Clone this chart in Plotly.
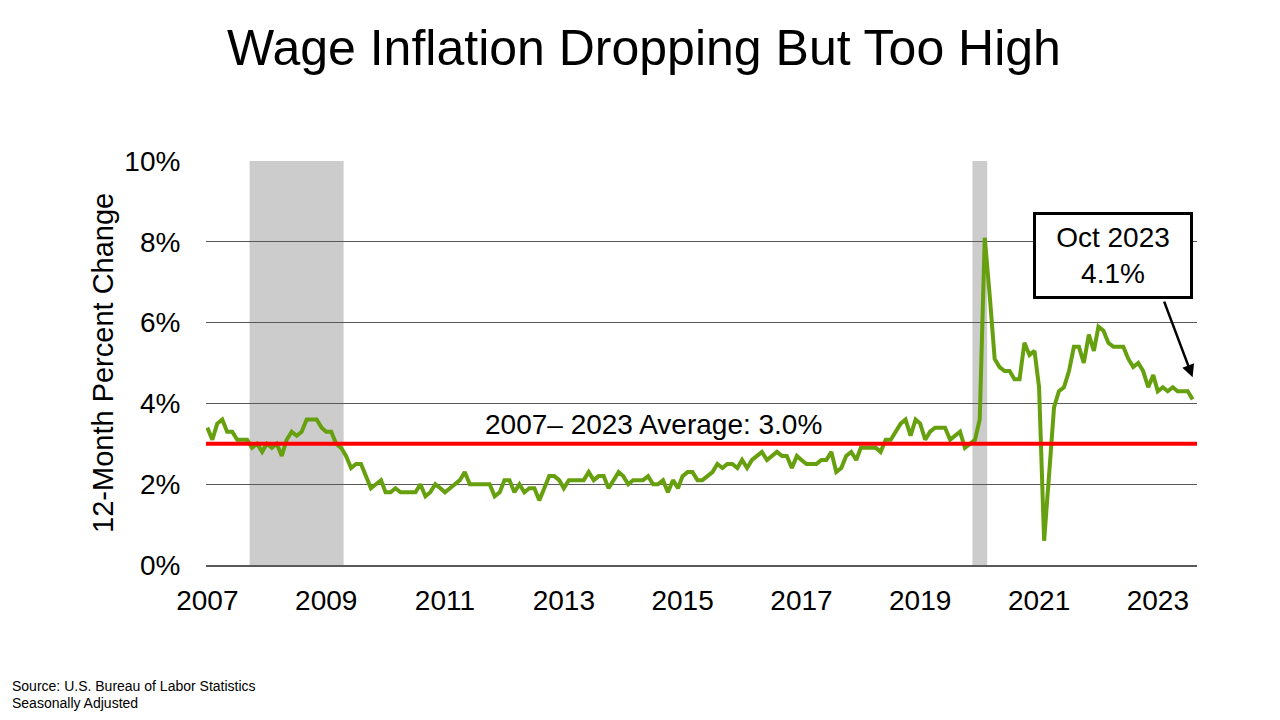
import pandas as pd
import plotly.graph_objects as go

# 12-month % change, monthly from Mar 2007 to Oct 2023
months = pd.date_range("2007-03-01", "2023-10-01", freq="MS")
wage_growth = [
    3.4, 3.1, 3.5, 3.6, 3.3, 3.3, 3.1, 3.1, 3.1, 2.9, 3.0, 2.8,
    3.0, 2.9, 3.0, 2.7, 3.1, 3.3, 3.2, 3.3, 3.6, 3.6, 3.6, 3.4,
    3.3, 3.3, 3.0, 2.9, 2.7, 2.4, 2.5, 2.5, 2.2, 1.9, 2.0, 2.1,
    1.8, 1.8, 1.9, 1.8, 1.8, 1.8, 1.8, 2.0, 1.7, 1.8, 2.0, 1.9,
    1.8, 1.9, 2.0, 2.1, 2.3, 2.0, 2.0, 2.0, 2.0, 2.0, 1.7, 1.8,
    2.1, 2.1, 1.8, 2.0, 1.8, 1.9, 1.9, 1.6, 1.9, 2.2, 2.2, 2.1,
    1.9, 2.1, 2.1, 2.1, 2.1, 2.3, 2.1, 2.2, 2.2, 1.9, 2.1, 2.3,
    2.2, 2.0, 2.1, 2.1, 2.1, 2.2, 2.0, 2.0, 2.1, 1.8, 2.1, 1.9,
    2.2, 2.3, 2.3, 2.1, 2.1, 2.2, 2.3, 2.5, 2.4, 2.5, 2.5, 2.4,
    2.6, 2.4, 2.6, 2.7, 2.8, 2.6, 2.7, 2.8, 2.7, 2.7, 2.4, 2.7,
    2.6, 2.5, 2.5, 2.5, 2.6, 2.6, 2.8, 2.3, 2.4, 2.7, 2.8, 2.6,
    2.9, 2.9, 2.9, 2.9, 2.8, 3.1, 3.1, 3.3, 3.5, 3.6, 3.2, 3.6,
    3.5, 3.1, 3.3, 3.4, 3.4, 3.4, 3.1, 3.2, 3.3, 2.9, 3.0, 3.1,
    3.6, 8.1, 6.7, 5.1, 4.9, 4.8, 4.8, 4.6, 4.6, 5.5, 5.2, 5.3,
    4.4, 0.6, 2.2, 3.9, 4.3, 4.4, 4.8, 5.4, 5.4, 5.0, 5.7, 5.3,
    5.9, 5.8, 5.5, 5.4, 5.4, 5.4, 5.1, 4.9, 5.0, 4.8, 4.4, 4.7,
    4.3, 4.4, 4.3, 4.4, 4.3, 4.3, 4.3, 4.1,
]
average = 3.0

recession_start = ["2007-11-16", "2020-01-16"]
recession_end = ["2009-06-16", "2020-04-16"]

tick_dates = ["2007-03-01", "2009-03-01", "2011-03-01", "2013-03-01", "2015-03-01",
              "2017-03-01", "2019-03-01", "2021-03-01", "2023-03-01"]
tick_labels = ["2007", "2009", "2011", "2013", "2015", "2017", "2019", "2021", "2023"]
y_ticks = [0, 2, 4, 6, 8, 10]
y_labels = ["0%", "2%", "4%", "6%", "8%", "10%"]

FONT = "Arial, Liberation Sans, sans-serif"

fig = go.Figure()

fig.add_trace(go.Scatter(x=months, y=wage_growth, mode="lines",
                         line=dict(color="#66A00E", width=4),
                         hoverinfo="x+y", showlegend=False))

# recession shading
for x0, x1 in zip(recession_start, recession_end):
    fig.add_shape(type="rect", xref="x", yref="y", x0=x0, x1=x1, y0=0, y1=10,
                  fillcolor="#CCCCCC", line_width=0, layer="below")

# long-run average
fig.add_shape(type="line", xref="paper", yref="y", x0=0, x1=1, y0=average, y1=average,
              line=dict(color="#FF0000", width=4), layer="above")

fig.add_annotation(x="2014-09-01", y=3.47, xref="x", yref="y",
                   text="2007\u2013 2023 Average: 3.0%", showarrow=False,
                   font=dict(size=28, color="black", family=FONT))

# callout box + arrow
fig.add_annotation(x=0.915, y=0.765, xref="paper", yref="paper",
                   xanchor="center", yanchor="middle",
                   text="Oct 2023<br>4.1%", showarrow=False,
                   font=dict(size=28, color="black", family=FONT),
                   bgcolor="white", bordercolor="black", borderwidth=3,
                   borderpad=3, width=148, height=75)
fig.add_annotation(x=months[-1], y=4.65, xref="x", yref="y", text="",
                   showarrow=True, ax=-29, ay=-77, arrowhead=2, arrowsize=1,
                   arrowwidth=2.5, arrowcolor="black")

# y-axis title and source note
fig.add_annotation(x=-0.104, y=0.5, xref="paper", yref="paper",
                   xanchor="center", yanchor="middle",
                   text="12-Month Percent Change", textangle=-90, showarrow=False,
                   font=dict(size=29, color="black", family=FONT))
fig.add_annotation(x=-0.198, y=-0.300, xref="paper", yref="paper",
                   xanchor="left", yanchor="middle",
                   text="Source: U.S. Bureau of Labor Statistics", showarrow=False,
                   font=dict(size=14, color="black", family=FONT))
fig.add_annotation(x=-0.198, y=-0.342, xref="paper", yref="paper",
                   xanchor="left", yanchor="middle",
                   text="Seasonally Adjusted", showarrow=False,
                   font=dict(size=14, color="black", family=FONT))

# page body has an 8px margin, so the figure is drawn 8px smaller
fig.update_layout(
    width=1272, height=712,
    margin=dict(l=198, r=83, t=153, b=155),
    paper_bgcolor="white", plot_bgcolor="white",
    title=dict(text="Wage Inflation Dropping But Too High", x=0.5, xanchor="center",
               y=0.944, yanchor="middle",
               font=dict(size=50, color="black", family=FONT)),
    font=dict(family=FONT, color="black"),
    xaxis=dict(range=["2007-02-21", "2023-10-28"], tickvals=tick_dates, ticktext=tick_labels,
               showgrid=False, showline=True, linecolor="#595959", linewidth=1.5,
               ticks="outside", ticklen=10, tickcolor="rgba(0,0,0,0)",
               tickfont=dict(size=28), zeroline=False),
    yaxis=dict(range=[0, 10], tickvals=y_ticks, ticktext=y_labels,
               showgrid=True, gridcolor="#595959", gridwidth=1, zeroline=False,
               ticks="outside", ticklen=19, tickcolor="rgba(0,0,0,0)",
               tickfont=dict(size=28)),
)

fig.write_html("out.html")
